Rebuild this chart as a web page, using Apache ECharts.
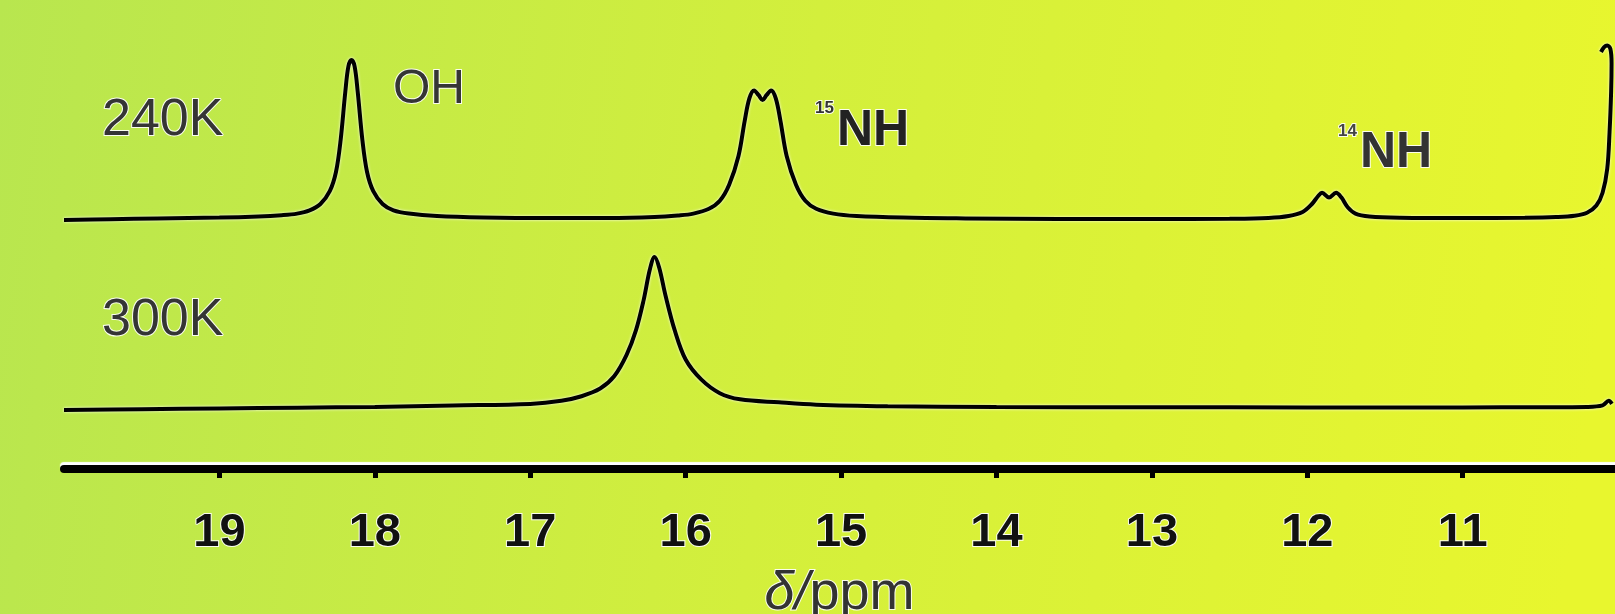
<!DOCTYPE html>
<html>
<head>
<meta charset="utf-8">
<script src="https://cdn.jsdelivr.net/npm/echarts@6/dist/echarts.min.js"></script>
<style>
html,body{margin:0;padding:0;}
#chart{width:1615px;height:614px;}
</style>
</head>
<body>
<div id="chart"></div>
<script>
// ---- data (chemical shift in ppm, relative intensity) ----
const tickValues = [19, 18, 17, 16, 15, 14, 13, 12, 11];
const traceNames = ['240K', '300K'];
const peakLabels = ['OH', 'NH', 'NH'];
const peakIsotopes = ['', '15', '14'];
const axisTitle = ['δ/', 'ppm'];

const spec240K = [
  [20.00, 0.00], [19.70, 0.005], [19.40, 0.01], [19.00, 0.015], [18.75, 0.022],
  [18.60, 0.03], [18.50, 0.04], [18.42, 0.06], [18.35, 0.10], [18.29, 0.18],
  [18.25, 0.30], [18.22, 0.50], [18.19, 0.80], [18.17, 0.96], [18.15, 1.00],
  [18.13, 0.96], [18.11, 0.80], [18.08, 0.50], [18.05, 0.30], [18.01, 0.18],
  [17.95, 0.10], [17.88, 0.06], [17.78, 0.04], [17.60, 0.025], [17.30, 0.016],
  [16.90, 0.012], [16.50, 0.012], [16.20, 0.018], [16.05, 0.028], [15.95, 0.04],
  [15.85, 0.07], [15.78, 0.12], [15.72, 0.22], [15.66, 0.40], [15.62, 0.62],
  [15.59, 0.76], [15.56, 0.81], [15.53, 0.78], [15.505, 0.75], [15.48, 0.78],
  [15.45, 0.81], [15.42, 0.76], [15.39, 0.62], [15.35, 0.40], [15.29, 0.22],
  [15.23, 0.12], [15.16, 0.07], [15.05, 0.04], [14.90, 0.025], [14.60, 0.015],
  [14.20, 0.01], [13.60, 0.006], [13.00, 0.006], [12.50, 0.008], [12.25, 0.013],
  [12.12, 0.025], [12.03, 0.05], [11.97, 0.10], [11.93, 0.15], [11.905, 0.17],
  [11.86, 0.14], [11.815, 0.17], [11.78, 0.14], [11.74, 0.08], [11.69, 0.04],
  [11.60, 0.022], [11.40, 0.014], [11.00, 0.012], [10.60, 0.014], [10.40, 0.018],
  [10.28, 0.026], [10.20, 0.045], [10.14, 0.09], [10.10, 0.17], [10.07, 0.32],
  [10.055, 0.55], [10.045, 0.80], [10.042, 0.98], [10.05, 1.07], [10.07, 1.09],
  [10.09, 1.08], [10.11, 1.05]
];

const spec300K = [
  [20.00, 0.00], [19.50, 0.005], [19.00, 0.01], [18.50, 0.015], [18.00, 0.02],
  [17.50, 0.03], [17.00, 0.04], [16.80, 0.06], [16.67, 0.09], [16.55, 0.14],
  [16.46, 0.22], [16.38, 0.36], [16.32, 0.52], [16.27, 0.72], [16.23, 0.92],
  [16.20, 1.00], [16.17, 0.93], [16.13, 0.75], [16.07, 0.52], [16.00, 0.33],
  [15.90, 0.20], [15.78, 0.11], [15.65, 0.07], [15.40, 0.05], [15.16, 0.035],
  [14.70, 0.025], [14.00, 0.02], [13.00, 0.018], [12.00, 0.017], [11.00, 0.017],
  [10.50, 0.018], [10.20, 0.02], [10.10, 0.03], [10.06, 0.06], [10.04, 0.04]
];

// ---- chart ----
const chart = echarts.init(document.getElementById('chart'), null, {renderer: 'canvas'});
const FONT = '"Liberation Sans", Arial, sans-serif';
const HALO = 'rgba(255,255,255,0.9)';

const xCommon = {
  type: 'value', inverse: true, min: 10.02, max: 20
};

function traceSeries(data, idx) {
  return {
    type: 'line', xAxisIndex: idx, yAxisIndex: idx, data: data,
    showSymbol: false, smooth: 0.35, clip: false, silent: true,
    lineStyle: {color: '#000', width: 4, shadowColor: 'rgba(255,255,255,0.95)', shadowBlur: 3}
  };
}

const option = {
  animation: false,
  backgroundColor: {
    type: 'linear', x: 0, y: 0, x2: 1, y2: 0.35,
    colorStops: [
      {offset: 0, color: '#b8e64f'},
      {offset: 0.5, color: '#d3ef3c'},
      {offset: 1, color: '#e8f62e'}
    ]
  },
  grid: [
    {left: 64, right: 0, top: 60, height: 160, outerBoundsMode: 'none', containLabel: false},
    {left: 64, right: 0, top: 257, height: 153, outerBoundsMode: 'none', containLabel: false}
  ],
  xAxis: [
    Object.assign({}, xCommon, {gridIndex: 0, show: false}),
    Object.assign({}, xCommon, {
      gridIndex: 1, position: 'bottom', offset: 59,
      splitLine: {show: false},
      axisLine: {show: true, onZero: false,
        lineStyle: {color: '#000', width: 8, shadowColor: '#fff', shadowOffsetY: -3, shadowBlur: 1}},
      axisTick: {show: true, customValues: tickValues, length: 9, inside: false,
        lineStyle: {color: '#000', width: 5}},
      axisLabel: {show: true, customValues: tickValues, margin: 41,
        fontFamily: FONT, fontSize: 47, fontWeight: 'bold', color: '#111',
        textBorderColor: HALO, textBorderWidth: 2},
      name: '{i|' + axisTitle[0] + '}{n|' + axisTitle[1] + '}',
      nameLocation: 'middle', nameGap: 98,
      nameTextStyle: {
        fontFamily: FONT, fontSize: 54, color: '#333',
        rich: {
          i: {fontFamily: FONT, fontSize: 54, fontStyle: 'italic', color: '#333', textBorderColor: HALO, textBorderWidth: 2},
          n: {fontFamily: FONT, fontSize: 54, color: '#333', textBorderColor: HALO, textBorderWidth: 2}
        }
      }
    })
  ],
  yAxis: [
    {type: 'value', gridIndex: 0, min: 0, max: 1, show: false},
    {type: 'value', gridIndex: 1, min: 0, max: 1, show: false}
  ],
  series: [traceSeries(spec240K, 0), traceSeries(spec300K, 1)],
  graphic: [
    {type: 'text', left: 101, top: 94, style: {text: traceNames[0], font: '52px ' + FONT, fill: '#353535', stroke: HALO, lineWidth: 2}},
    {type: 'text', left: 101, top: 294, style: {text: traceNames[1], font: '52px ' + FONT, fill: '#353535', stroke: HALO, lineWidth: 2}},
    {type: 'text', left: 392, top: 65, style: {text: peakLabels[0], font: '48px ' + FONT, fill: '#353535', stroke: HALO, lineWidth: 2}},
    {type: 'text', left: 814, top: 99, style: {text: peakIsotopes[1], font: 'bold 17px ' + FONT, fill: '#333', stroke: HALO, lineWidth: 2}},
    {type: 'text', left: 836, top: 105, style: {text: peakLabels[1], font: 'bold 50px ' + FONT, fill: '#222', stroke: HALO, lineWidth: 2}},
    {type: 'text', left: 1337, top: 122, style: {text: peakIsotopes[2], font: 'bold 17px ' + FONT, fill: '#444', stroke: HALO, lineWidth: 2}},
    {type: 'text', left: 1359, top: 127, style: {text: peakLabels[2], font: 'bold 50px ' + FONT, fill: '#333', stroke: HALO, lineWidth: 2}}
  ]
};
chart.setOption(option);
</script>
</body>
</html>
